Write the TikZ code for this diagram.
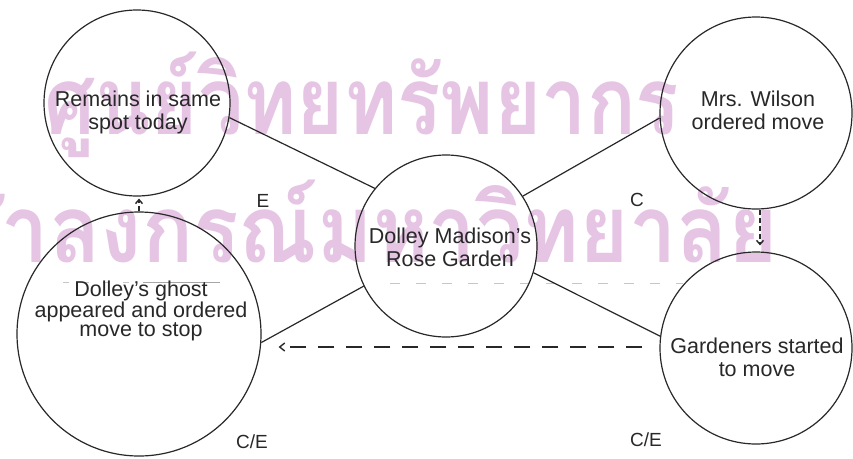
\documentclass[tikz,border=0pt]{standalone}
\usepackage{fontspec}
\setmainfont{Liberation Sans}
\newfontfamily\thaifont[Script=Thai]{Loma}
\usetikzlibrary{arrows.meta}
\definecolor{wmpink}{RGB}{230,196,228}
\definecolor{ink}{RGB}{40,40,40}
\tikzset{
  circ/.style={circle, draw=ink, line width=1.2pt, inner sep=0pt},
  lbl/.style={align=center, text=ink, font=\fontsize{21.5}{23}\selectfont},
  tag/.style={text=ink, font=\fontsize{19}{22}\selectfont},
  link/.style={draw=ink, line width=1.2pt},
  flow/.style={draw=ink, line width=1.4pt, dash pattern=on 16pt off 12pt,
    -{Straight Barb[length=5pt,width=8pt]}},
  vflow/.style={draw=ink, line width=1.4pt, dash pattern=on 5pt off 3pt,
    -{Straight Barb[length=4pt,width=7pt]}},
  wm/.style={text=wmpink, font=\thaifont\bfseries\fontsize{94}{100}\selectfont, inner sep=0pt},
  ghostline/.style={draw=gray!45, line width=1pt}
}
\begin{document}
\begin{tikzpicture}[x=1pt,y=-1pt]
\clip (0,0) rectangle (853,458);
\fill[white] (0,0) rectangle (853,458);
% watermark
\node[wm, anchor=base west, xscale=0.86] (wm1) at (44,134) {ศูนย์วิทยทรัพยากร};
\node[wm, anchor=base east, xscale=0.9] (wm2) at (778,262) {จุฬาลงกรณ์มหาวิทยาลัย};
% faint show-through lines
\draw[ghostline, dash pattern=on 6pt off 14pt] (63,282) -- (140,282);
\draw[ghostline, draw=gray!70] (143,282) -- (220,282);
\draw[ghostline, dash pattern=on 10pt off 16pt] (390,283) -- (683,283);
% circles
\node[circ, minimum size=186pt] (rem) at (137,103) {};
\node[circ, minimum size=192pt] (wil) at (756,113) {};
\node[circ, minimum size=182pt] (cen) at (446,246) {};
\node[circ, minimum size=244pt] (gho) at (139,334) {};
\node[circ, minimum size=192pt] (gar) at (756,348) {};
% texts
\node[lbl] (remt) at (138,112) {Remains in same\\spot today};
\node[lbl] (wilt) at (758,110) {Mrs. Wilson\\ordered move};
\node[lbl] (cent) at (450,247) {Dolley Madison's\\Rose Garden};
\node[lbl, font=\fontsize{21.5}{19}\selectfont] (ghot) at (141,311) {Dolley's ghost\\appeared and ordered\\move to stop};
\node[lbl] (gart) at (757,357) {Gardeners started\\to move};
% tags
\node[tag] (tE) at (263,201) {E};
\node[tag] (tC) at (637,200) {C};
\node[tag] (tCE1) at (252,442) {C/E};
\node[tag] (tCE2) at (646,440) {C/E};
% connectors
\draw[link] (rem.-9) -- (cen.141.5);
\draw[link] (wil.183) -- (cen.33.7);
\draw[link] (gho.-4) -- (cen.206);
\draw[link] (gar.173.5) -- (cen.-17);
% dashed arrows
\coordinate (hs) at ([yshift=1pt]gar.west);
\coordinate (vs) at ([xshift=4pt]wil.south);
\draw[vflow, shorten >=2pt] (gho.north) -- (gho.north |- rem.south);
\draw[vflow, shorten >=6pt] (vs) -- (vs |- gar.north);
\draw[flow, shorten <=17pt, shorten >=17pt] (hs) -- (gho.east |- hs);
\end{tikzpicture}
\end{document}
